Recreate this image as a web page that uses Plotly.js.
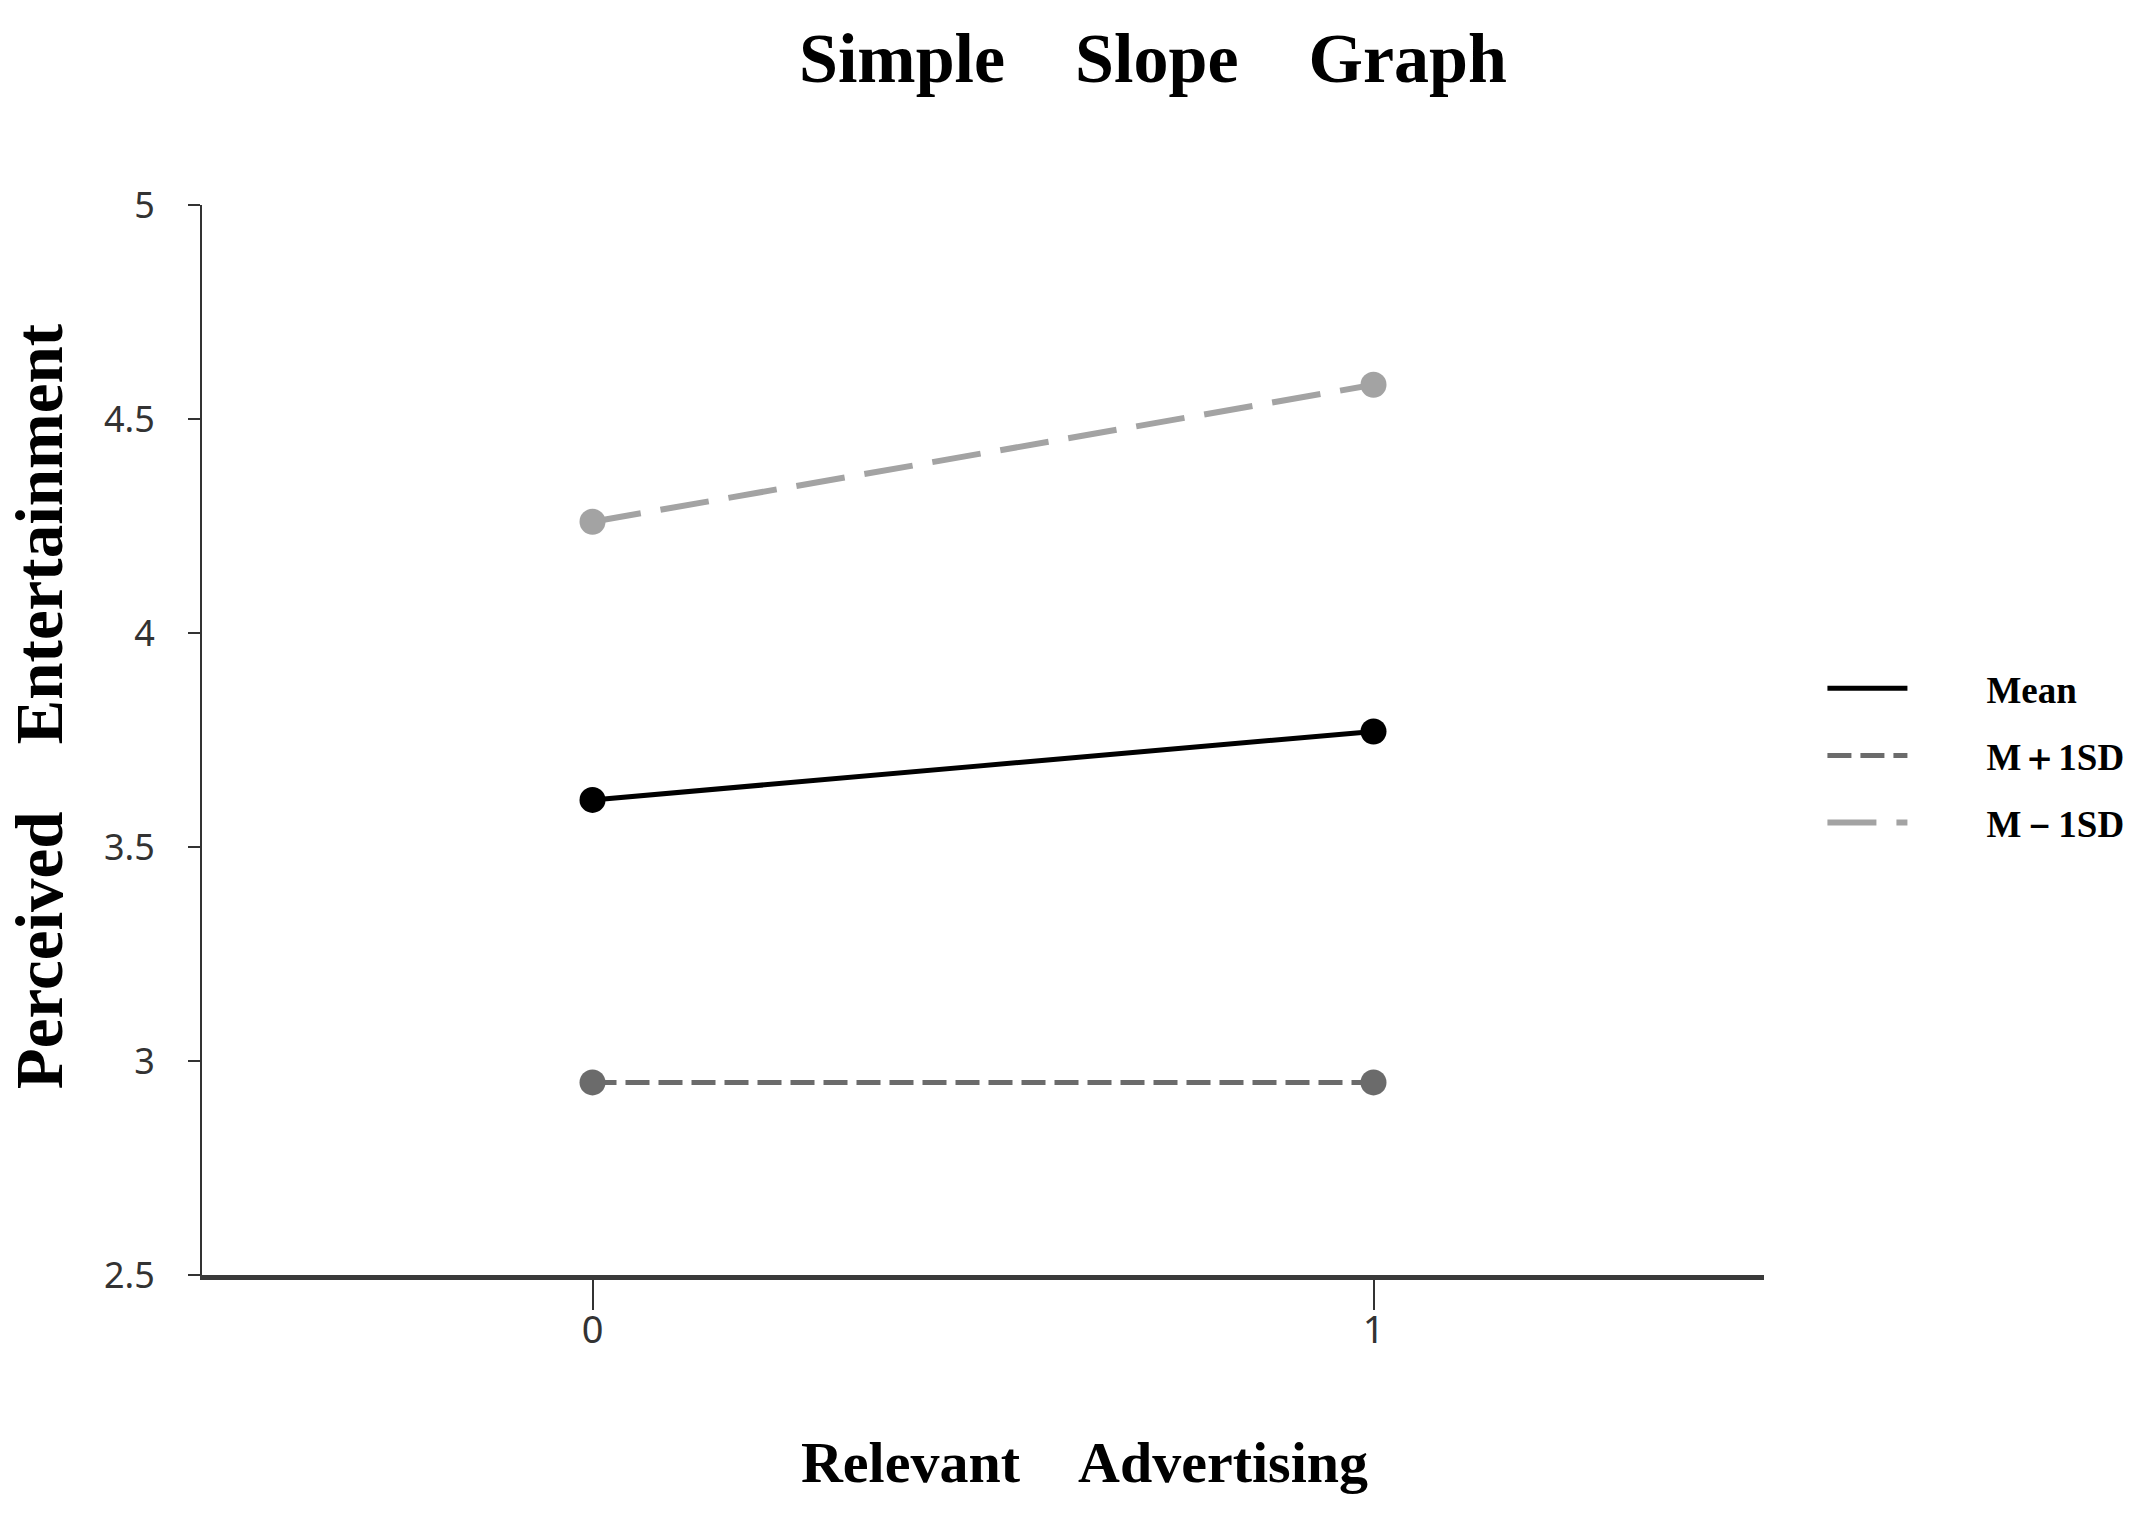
<!DOCTYPE html>
<html>
<head>
<meta charset="utf-8">
<script src="https://cdn.plot.ly/plotly-3.0.1.min.js"></script>
<style>html,body{margin:0;padding:0;background:#fff;}#chart{width:2139px;height:1519px;}</style>
</head>
<body>
<div id="chart"></div>
<script>
// Data
const xValues = [0, 1];
const seriesNames = ["Mean", "M\uFF0B1SD", "M\uFF0D1SD"];
const meanValues = [3.61, 3.77];
const plusSDValues = [2.95, 2.95];
const minusSDValues = [4.26, 4.58];
const yTickValues = [2.5, 3, 3.5, 4, 4.5, 5];
const yTickLabels = ["2.5", "3", "3.5", "4", "4.5", "5"];
const xTickValues = [0, 1];
const xTickLabels = ["0", "1"];

const SERIF = "'Liberation Serif', 'Times New Roman', serif";
const sp = n => "\u00A0".repeat(n);

const series = [
  {name: seriesNames[0], y: meanValues, color: "#000000", width: 5, dash: "solid"},
  {name: seriesNames[1], y: plusSDValues, color: "#6b6b6b", width: 5, dash: "24px,9px"},
  {name: seriesNames[2], y: minusSDValues, color: "#a3a3a3", width: 6, dash: "49px,20px"}
];

const traces = [];
series.forEach((s, i) => {
  traces.push({
    x: xValues, y: s.y, name: sp(8) + s.name, legendgroup: "g" + i,
    type: "scatter", mode: "lines",
    line: {color: s.color, width: s.width, dash: s.dash}
  });
  traces.push({
    x: xValues, y: s.y, name: s.name, legendgroup: "g" + i, showlegend: false,
    type: "scatter", mode: "markers",
    marker: {color: s.color, size: 26}
  });
});

const layout = {
  width: 2139, height: 1519,
  paper_bgcolor: "#ffffff", plot_bgcolor: "#ffffff",
  margin: {l: 202, r: 375, t: 205, b: 244},
  title: {
    text: "<b>Simple" + sp(4) + "Slope" + sp(4) + "Graph</b>",
    font: {family: SERIF, size: 70, color: "#000"},
    x: 0.539, xanchor: "center", xref: "container",
    y: 0.962, yanchor: "middle", yref: "container"
  },
  xaxis: {
    range: [-0.5, 1.5],
    tickmode: "array", tickvals: xTickValues, ticktext: xTickLabels,
    ticks: "outside", ticklen: 30, tickwidth: 2, tickcolor: "#333",
    ticklabelstandoff: -13,
    showline: true, linecolor: "#3a3a3a", linewidth: 5,
    showgrid: false, zeroline: false,
    tickfont: {family: "'Noto Sans', sans-serif", size: 38, color: "#333"},
    title: {
      text: "<b>" + sp(14) + "Relevant" + sp(4) + "Advertising</b>",
      font: {family: SERIF, size: 58, color: "#000"},
      standoff: 90
    },
    automargin: false
  },
  yaxis: {
    range: [2.5, 5],
    tickmode: "array", tickvals: yTickValues, ticktext: yTickLabels,
    ticks: "outside", ticklen: 12, tickwidth: 2, tickcolor: "#333",
    ticklabelstandoff: 26,
    showline: true, linecolor: "#333", linewidth: 2,
    showgrid: false, zeroline: false,
    tickfont: {family: "'Noto Sans', sans-serif", size: 36, color: "#333"},
    title: {
      text: "<b>" + sp(4) + "Perceived" + sp(4) + "Entertainment</b>",
      font: {family: SERIF, size: 67, color: "#000"},
      standoff: 20
    },
    automargin: false
  },
  showlegend: true,
  legend: {
    xref: "container", yref: "container",
    x: 0.852, y: 0.567, xanchor: "left", yanchor: "top",
    itemwidth: 80,
    font: {family: SERIF, size: 37, color: "#000", weight: "bold"},
    bgcolor: "rgba(0,0,0,0)", borderwidth: 0,
    traceorder: "grouped", tracegroupgap: 16
  }
};

Plotly.newPlot("chart", traces, layout, {displayModeBar: false, staticPlot: true});
</script>
</body>
</html>
